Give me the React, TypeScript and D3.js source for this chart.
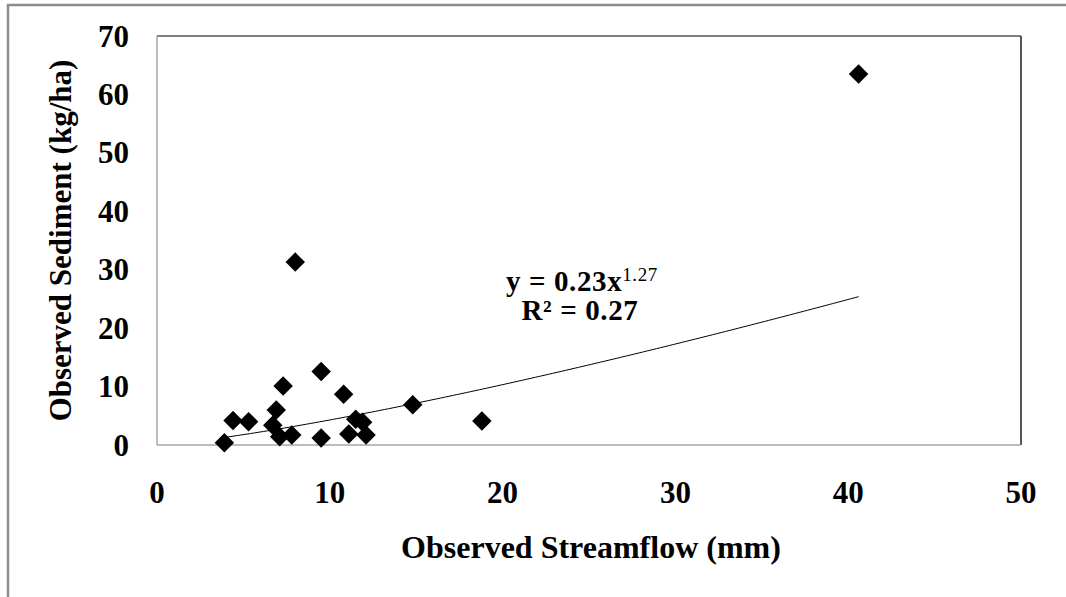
import React from "react"
import * as d3 from "d3"

// observed streamflow (mm) and sediment (kg/ha)
const streamflow = [3.9, 4.4, 5.3, 6.9, 6.7, 7.1, 7.8, 7.3, 8.0, 9.5, 9.5, 10.8, 11.1, 11.5, 11.9, 12.1, 14.8, 18.8, 40.6]
const sediment = [0.4, 4.2, 4.0, 6.0, 3.4, 1.4, 1.7, 10.1, 31.3, 12.6, 1.2, 8.7, 1.9, 4.4, 3.9, 1.7, 6.9, 4.1, 63.5]
const xTicks = [0, 10, 20, 30, 40, 50]
const yTicks = [0, 10, 20, 30, 40, 50, 60, 70]
// power trendline y = a * x^b
const fitA = 0.23
const fitB = 1.27
const fitR2 = 0.27

const W = 1066
const H = 597
const FONT = "'Liberation Serif', 'Times New Roman', serif"

const App = () => {
    const margin = { left: 157, right: 1066 - 1021, top: 36, bottom: 597 - 445 }
    const x = d3.scaleLinear().domain([0, 50]).range([margin.left, W - margin.right])
    const y = d3.scaleLinear().domain([0, 70]).range([H - margin.bottom, margin.top])

    const points = streamflow.map((v, i) => [v, sediment[i]] as [number, number])

    // trendline across the range of the data
    const [xMin, xMax] = d3.extent(streamflow) as [number, number]
    const fitX = d3.range(xMin, xMax, 0.25).concat([xMax])
    const fitLine = d3.line<number>()
        .x(d => x(d))
        .y(d => y(fitA * Math.pow(d, fitB)))(fitX)

    const diamond = d3.symbol().type(d3.symbolSquare).size(190)()

    const x0 = x(0), x1 = x(50), y0 = y(0), y1 = y(70)

    return (
        <svg width={W} height={H} style={{ position: "absolute", left: 0, top: 0, background: "#fff" }}
            fontFamily={FONT} fontWeight="bold">
            {/* outer chart frame */}
            <rect x={8} y={5} width={W + 20} height={H + 20} fill="#fff" stroke="#8c8c8c" strokeWidth={2.5} />

            {/* plot area frame */}
            <line x1={x0} x2={x1} y1={y1} y2={y1} stroke="#000" strokeWidth={1} />
            <line x1={x1} x2={x1} y1={y1} y2={y0} stroke="#555" strokeWidth={2} />
            <line x1={x0} x2={x0} y1={y1} y2={y0} stroke="#a6a6a6" strokeWidth={1.5} />
            <line x1={x0} x2={x1} y1={y0} y2={y0} stroke="#a6a6a6" strokeWidth={1.5} />

            {/* tick labels */}
            {yTicks.map(t => (
                <text key={"y" + t} x={129} y={y(t)} dy="0.34em" textAnchor="end" fontSize={31}>{t}</text>
            ))}
            {xTicks.map(t => (
                <text key={"x" + t} x={x(t)} y={503} textAnchor="middle" fontSize={31}>{t}</text>
            ))}

            {/* axis titles */}
            <text x={591} y={558} textAnchor="middle" fontSize={32}>Observed Streamflow (mm)</text>
            <text transform={`translate(71, ${(y0 + y1) / 2}) rotate(-90)`} textAnchor="middle" fontSize={31}>
                Observed Sediment (kg/ha)
            </text>

            {/* trendline */}
            <path d={fitLine ?? ""} fill="none" stroke="#000" strokeWidth={1} />

            {/* points */}
            {points.map((p, i) => (
                <path key={i} d={diamond ?? ""} transform={`translate(${x(p[0])}, ${y(p[1])}) rotate(45)`} fill="#000" />
            ))}

            {/* equation */}
            <text x={582} y={291} textAnchor="middle" fontSize={29} letterSpacing={0.6}>
                y = {fitA}x<tspan fontSize={19} fontWeight="normal" dy={-10}>{fitB}</tspan>
            </text>
            <text x={580} y={320} textAnchor="middle" fontSize={29} letterSpacing={0.6}>R² = {fitR2}</text>
        </svg>
    )
}

export default App
